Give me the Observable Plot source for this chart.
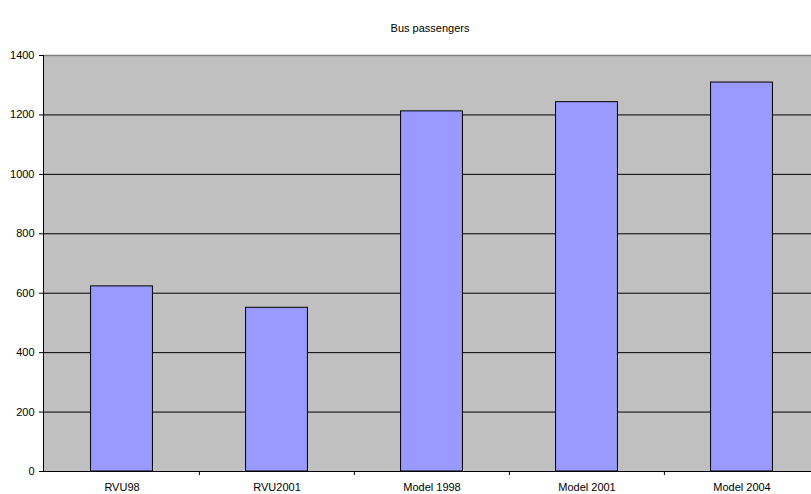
<!DOCTYPE html>
<html>
<head>
<meta charset="utf-8">
<script src="https://cdn.jsdelivr.net/npm/d3@7"></script>
<script src="https://cdn.jsdelivr.net/npm/@observablehq/plot@0.6"></script>
<style>
  html, body { margin: 0; padding: 0; background: #fff; overflow: hidden; width: 811px; height: 494px; }
  #title { position: relative; height: 40px; font-family: "Liberation Sans", Arial, sans-serif; font-size: 11px; }
  #title span { position: absolute; top: 22px; left: 43px; width: 774px; text-align: center; }
  #chart svg { max-width: none !important; display: block; }
</style>
</head>
<body>
<div id="title"><span>Bus passengers</span></div>
<div id="chart"></div>
<script>
const categories = ["RVU98", "RVU2001", "Model 1998", "Model 2001", "Model 2004"];
const passengers = [623, 551, 1212, 1243, 1309];
const yTicks = [0, 200, 400, 600, 800, 1000, 1200, 1400];

const data = categories.map((c, i) => ({category: c, value: passengers[i]}));

const W = 819, ML = 43;
const step = (W - ML) / categories.length;

const chart = Plot.plot({
  width: W,
  height: 454,
  marginLeft: ML,
  marginRight: 0,
  marginTop: 15,
  marginBottom: 23,
  style: {fontFamily: "'Liberation Sans', Arial, sans-serif", fontSize: "11px", color: "#000", background: "transparent", maxWidth: "none"},
  x: {type: "band", domain: categories, padding: 0, label: null},
  y: {domain: [0, 1400], label: null},
  marks: [
    Plot.frame({fill: "#c0c0c0", stroke: null}),
    Plot.gridY(yTicks.slice(1, -1), {stroke: "#000", strokeOpacity: 1, strokeWidth: 1}),
    Plot.ruleY([1400], {stroke: "#808080", strokeWidth: 1.5}),
    Plot.barY(data, {x: "category", y: "value", fill: "#9999ff", stroke: "#000", strokeWidth: 1, insetLeft: step * 0.3, insetRight: step * 0.3}),
    Plot.ruleY([0], {stroke: "#000", strokeWidth: 1}),
    Plot.frame({anchor: "left", stroke: "#000"}),
    Plot.axisY(yTicks, {tickSize: 4, tickPadding: 5, stroke: "#000", fill: "#000", tickFormat: d => String(d)}),
    Plot.axisX({tickSize: 0, tickPadding: 12, fill: "#000"}),
    Plot.ruleX(categories.slice(1), {x: d => d, y1: 0, y2: 0, dx: -step / 2, insetBottom: -4, stroke: "#000"})
  ]
});
document.getElementById("chart").appendChild(chart);
</script>
</body>
</html>
